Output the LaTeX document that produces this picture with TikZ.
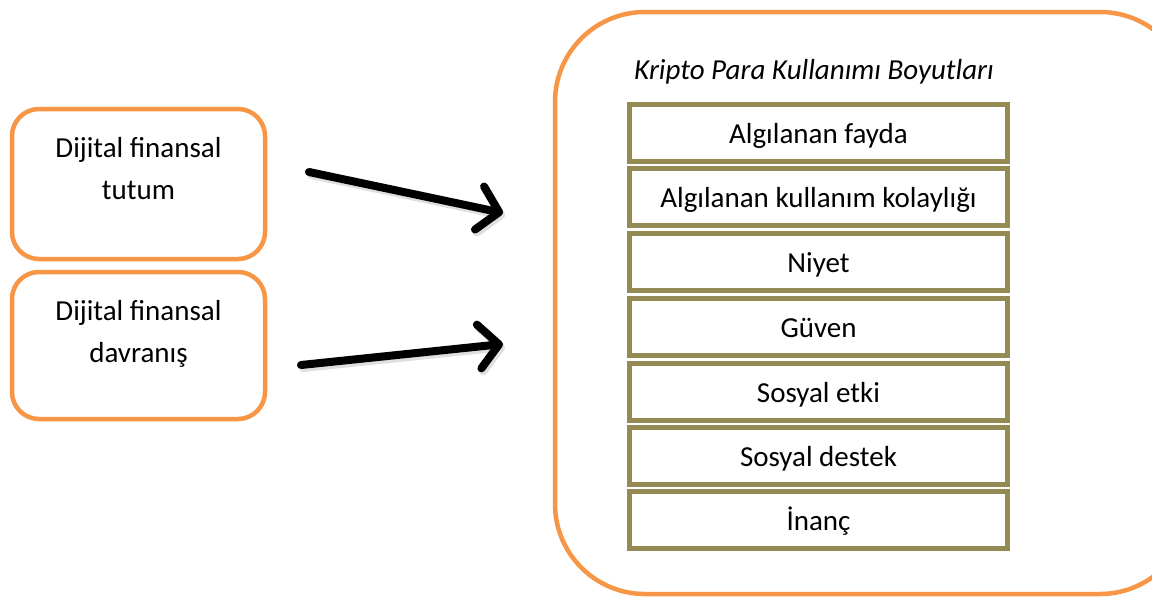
\documentclass[tikz,border=0pt]{standalone}
\usepackage{fontspec}
\setmainfont{Carlito}
\usetikzlibrary{arrows.meta}
\definecolor{orng}{HTML}{F79646}
\definecolor{olive}{HTML}{948A54}
\tikzset{
  lbox/.style={draw=orng, line width=4.5pt, rounded corners=27pt, minimum width=253pt, minimum height=150pt, inner sep=0pt},
  ltext/.style={align=center, font=\fontsize{29}{42}\selectfont, inner sep=0pt},
  dimbox/.style={draw=olive, line width=5pt, fill=white, minimum width=378pt, minimum height=57pt, inner sep=0pt, text height=24pt, text depth=4pt, font=\fontsize{29}{34}\selectfont},
  bigarrow/.style={line width=8pt, line cap=round, -{Straight Barb[length=20pt,width=44pt,round]}},
  shadowarrow/.style={bigarrow, draw=black!25, opacity=0.5},
}
\begin{document}
\begin{tikzpicture}[x=1pt,y=-1pt]
\useasboundingbox (0,0) rectangle (1152,597);
\begin{scope}
  \clip (0,0) rectangle (1152,597);
  \draw[draw=orng, line width=4.5pt, rounded corners=90pt] (555,12) rectangle (1190,594);
  \node (big) at (860,300) {};
\end{scope}
\node[font=\fontsize{29}{34}\selectfont\itshape] (title) at (814,72) {Kripto Para Kullanımı Boyutları};
\node[dimbox] (d1) at (818.5,133) {Algılanan fayda};
\node[dimbox] (d2) at (818.5,197) {Algılanan kullanım kolaylığı};
\node[dimbox] (d3) at (818.5,262) {Niyet};
\node[dimbox] (d4) at (818.5,327) {Güven};
\node[dimbox] (d5) at (818.5,392) {Sosyal etki};
\node[dimbox] (d6) at (818.5,456) {Sosyal destek};
\node[dimbox] (d7) at (818.5,520) {İnanç};

\node[lbox] (b1) at (138.5,184) {};
\node[ltext] (t1) at (138.5,169) {Dijital finansal\\tutum};
\node[lbox, minimum height=147pt] (b2) at (138.5,345.5) {};
\node[ltext] (t2) at (138.5,334) {Dijital finansal\\davranış};

\coordinate (a1s) at (309,172);
\coordinate (a1e) at (503,213);
\coordinate (a2s) at (301,365);
\coordinate (a2e) at (503,344);
\draw[shadowarrow] ([shift={(2,3)}]a1s) -- ([shift={(2,3)}]a1e);
\draw[shadowarrow] ([shift={(2,3)}]a2s) -- ([shift={(2,3)}]a2e);
\draw[bigarrow] (a1s) -- (a1e);
\draw[bigarrow] (a2s) -- (a2e);
\end{tikzpicture}
\end{document}
